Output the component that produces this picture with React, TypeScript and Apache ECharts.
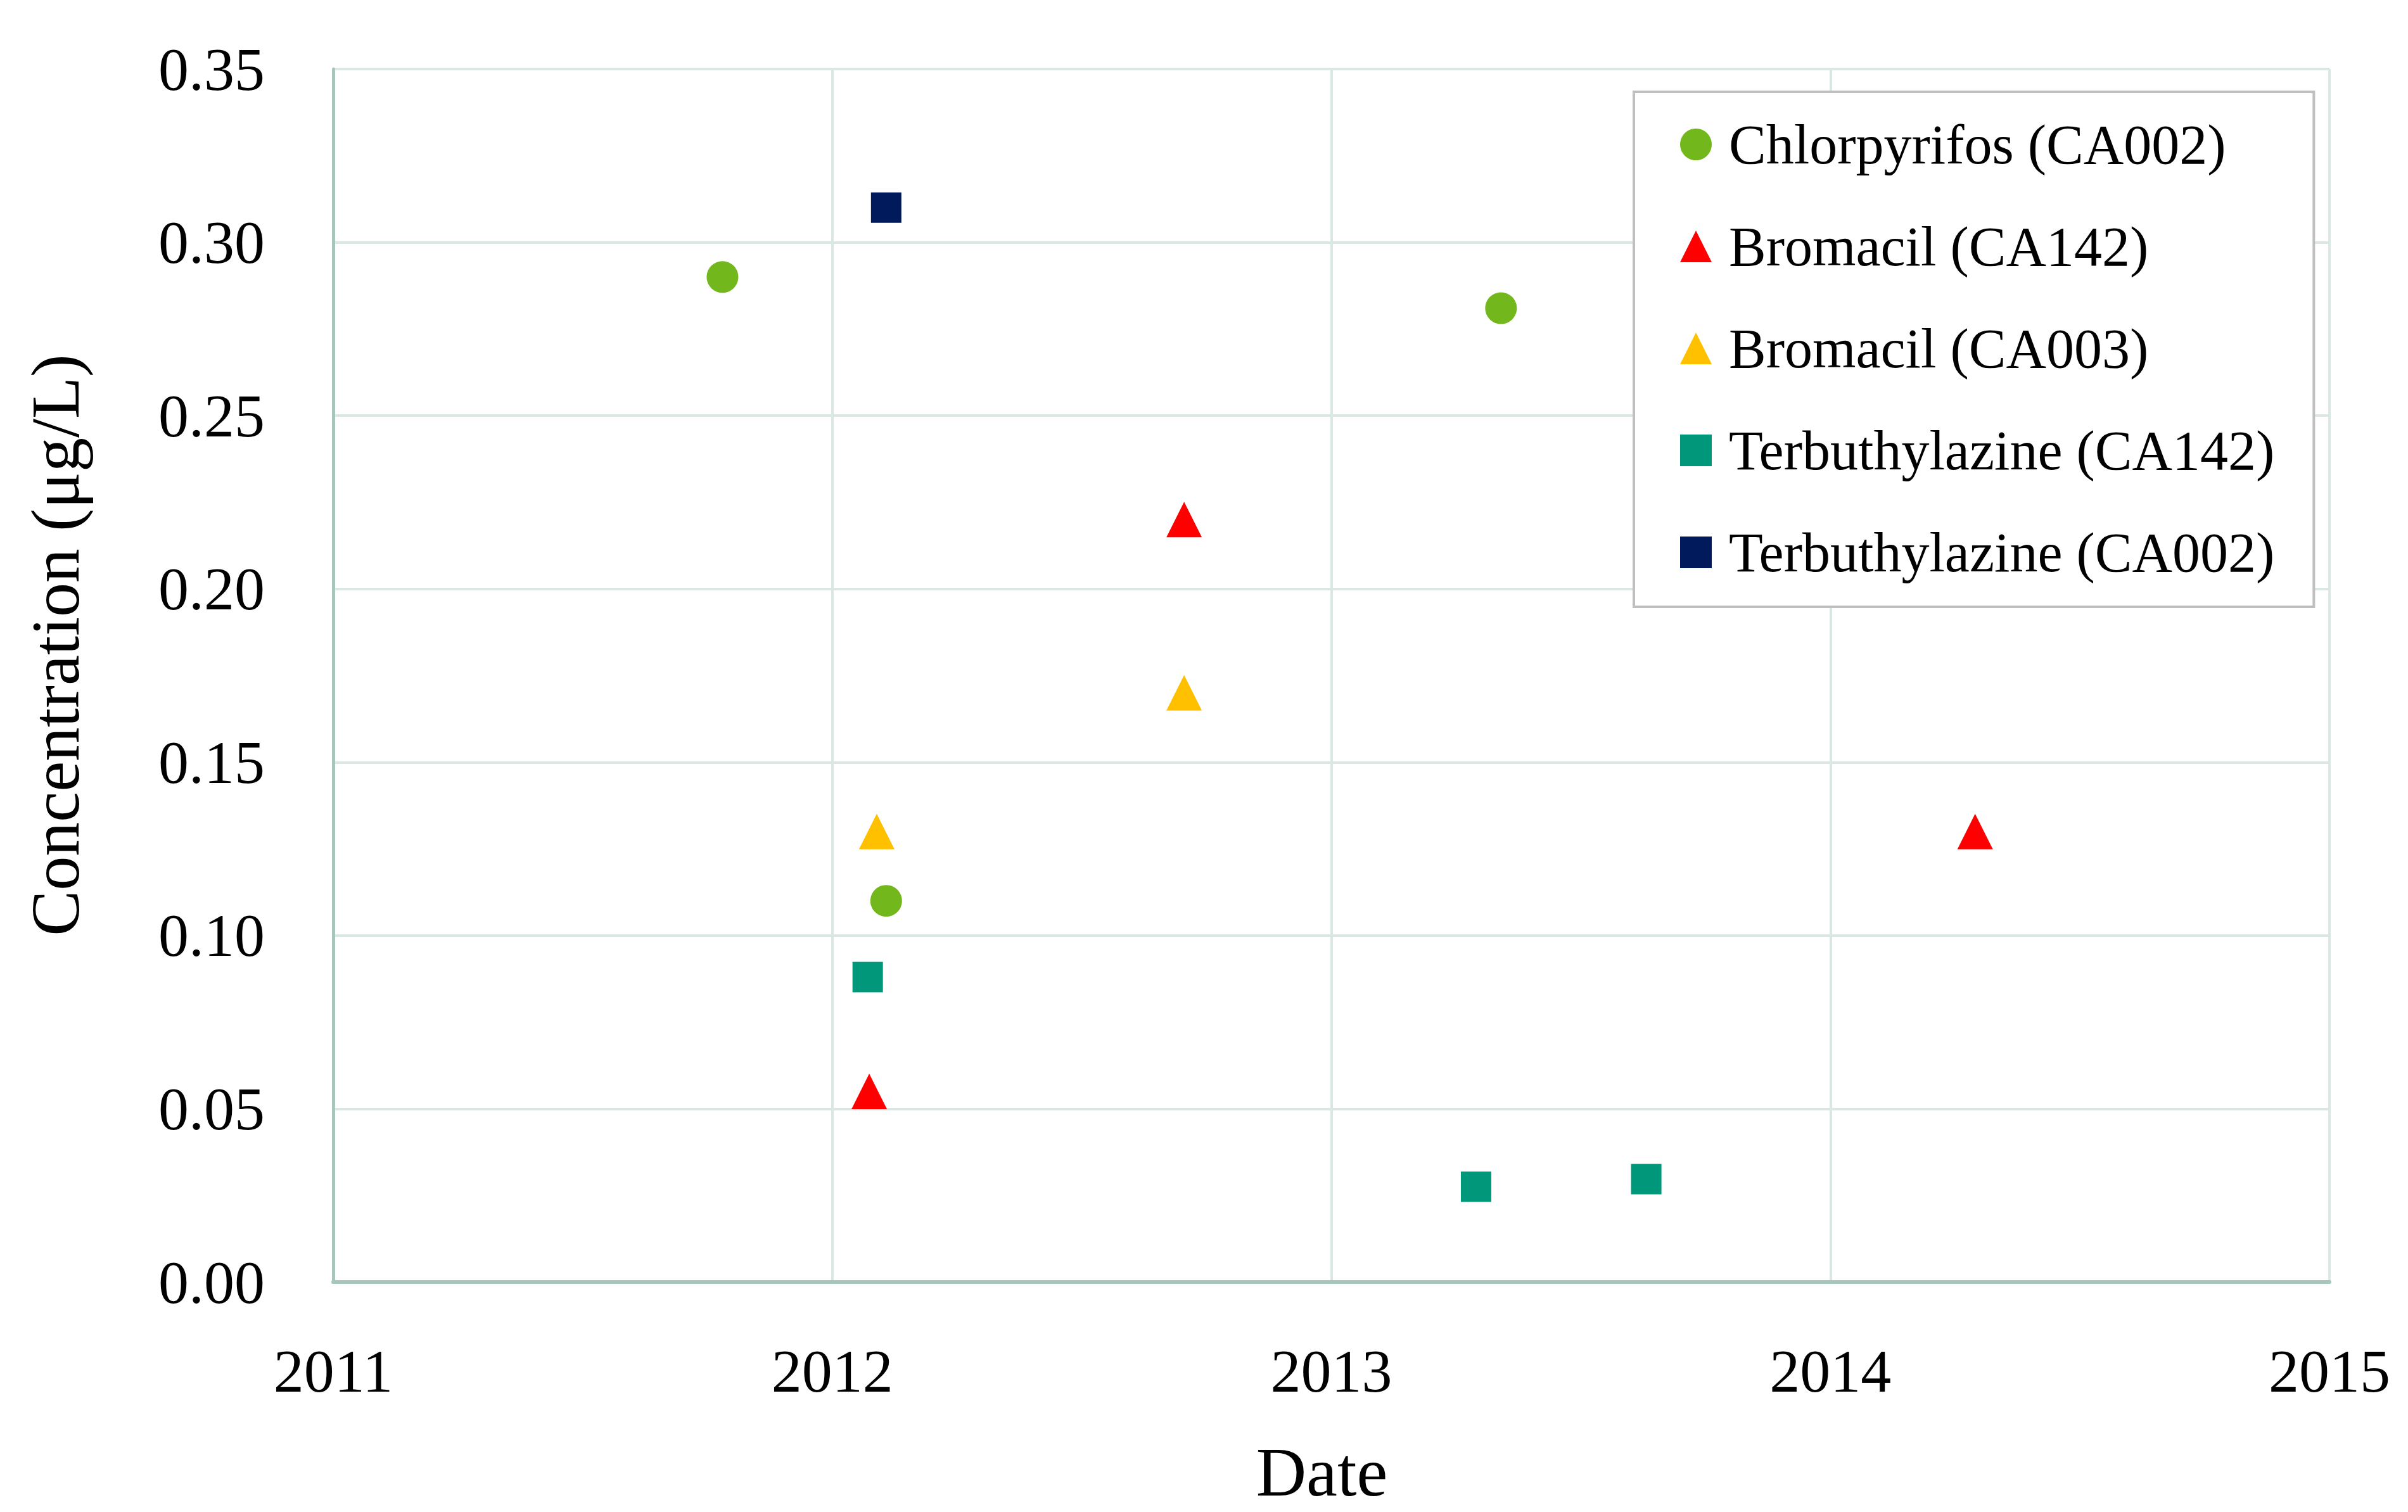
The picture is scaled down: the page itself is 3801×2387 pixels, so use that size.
import React, { useEffect, useRef } from "react";
import * as echarts from "echarts";

// Dates expressed as decimal years, concentrations in µg/L
const chlorpyrifosCA002: [number, number][] = [
  [2011.78, 0.29],
  [2012.108, 0.11],
  [2013.34, 0.281],
];
const bromacilCA142: [number, number][] = [
  [2012.074, 0.055],
  [2012.705, 0.22],
  [2014.29, 0.13],
];
const bromacilCA003: [number, number][] = [
  [2012.089, 0.13],
  [2012.705, 0.17],
];
const terbuthylazineCA142: [number, number][] = [
  [2012.071, 0.088],
  [2013.29, 0.0275],
  [2013.631, 0.0297],
];
const terbuthylazineCA002: [number, number][] = [[2012.108, 0.31]];

const seriesNames = [
  "Chlorpyrifos (CA002)",
  "Bromacil (CA142)",
  "Bromacil (CA003)",
  "Terbuthylazine (CA142)",
  "Terbuthylazine (CA002)",
];
const xTicks = { min: 2011, max: 2015, interval: 1 };
const yTicks = { min: 0, max: 0.35, interval: 0.05 };

const FONT = "Liberation Serif";

export default function App() {
  const ref = useRef<HTMLDivElement>(null);
  useEffect(() => {
    if (!ref.current) return;
    const chart = echarts.init(ref.current, null, { renderer: "svg" });
    const gridColor = "#dbe7e3";
    const axisColor = "#a9c6bc";
    const mk = (
      name: string,
      data: [number, number][],
      symbol: string,
      size: number,
      color: string
    ) => ({
      name,
      type: "scatter",
      data,
      symbol,
      symbolSize: size,
      itemStyle: { color, opacity: 1 },
    });
    chart.setOption({
      animation: false,
      backgroundColor: "#ffffff",
      textStyle: { fontFamily: FONT },
      grid: { left: 526, right: 124, top: 109, bottom: 363, containLabel: false },
      legend: {
        orient: "vertical",
        left: 2579,
        top: 145,
        data: seriesNames,
        backgroundColor: "#ffffff",
        borderColor: "#bfbfbf",
        borderWidth: 4,
        padding: [35, 62, 38, 73],
        itemGap: 65,
        itemWidth: 50,
        itemHeight: 50,
        textStyle: {
          fontFamily: FONT,
          fontSize: 88,
          color: "#000000",
          lineHeight: 96,
          padding: [0, 0, 0, 22],
        },
      },
      xAxis: {
        type: "value",
        min: xTicks.min,
        max: xTicks.max,
        interval: xTicks.interval,
        name: "Date",
        nameLocation: "middle",
        nameGap: 245,
        nameTextStyle: {
          fontFamily: FONT,
          fontSize: 110,
          color: "#000",
          padding: [0, 30, 0, 0],
        },
        axisLine: { show: true, lineStyle: { color: axisColor, width: 6 } },
        axisTick: { show: false },
        axisLabel: {
          fontFamily: FONT,
          fontSize: 96,
          color: "#000",
          margin: 92,
          formatter: (v: number) => String(Math.round(v)),
        },
        splitLine: { show: true, lineStyle: { color: gridColor, width: 4 } },
      },
      yAxis: {
        type: "value",
        min: yTicks.min,
        max: yTicks.max,
        interval: yTicks.interval,
        name: "Concentration (μg/L)",
        nameLocation: "middle",
        nameGap: 385,
        nameTextStyle: {
          fontFamily: FONT,
          fontSize: 108,
          color: "#000",
          padding: [0, 0, 0, 96],
        },
        axisLine: { show: true, lineStyle: { color: axisColor, width: 5 } },
        axisTick: { show: false },
        axisLabel: {
          fontFamily: FONT,
          fontSize: 96,
          color: "#000",
          margin: 108,
          formatter: (v: number) => v.toFixed(2),
        },
        splitLine: { show: true, lineStyle: { color: gridColor, width: 4 } },
      },
      series: [
        mk(seriesNames[0], chlorpyrifosCA002, "circle", 50, "#72b81c"),
        mk(seriesNames[1], bromacilCA142, "triangle", 56, "#ff0000"),
        mk(seriesNames[2], bromacilCA003, "triangle", 56, "#ffc000"),
        mk(seriesNames[3], terbuthylazineCA142, "rect", 48, "#00977a"),
        mk(seriesNames[4], terbuthylazineCA002, "rect", 48, "#001a5c"),
      ],
    });
    return () => chart.dispose();
  }, []);
  return (
    <div
      ref={ref}
      style={{ position: "absolute", left: 0, top: 0, width: 3801, height: 2387 }}
    />
  );
}
